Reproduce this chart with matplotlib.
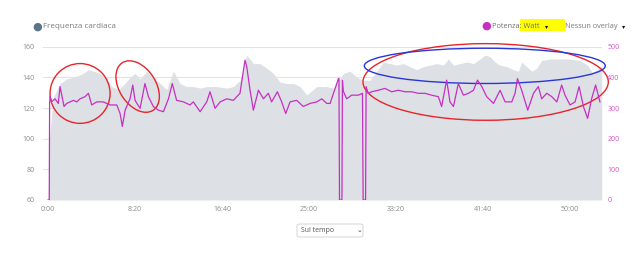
import matplotlib
matplotlib.use("Agg")
import matplotlib.pyplot as plt
from matplotlib.patches import Ellipse, FancyBboxPatch, Rectangle

plt.rcParams['font.family'] = ['Open Sans', 'DejaVu Sans']

# heart rate (bpm) over time (s)
hr_t = [0, 8, 30, 69, 107, 146, 203, 232, 261, 299, 337, 366, 404, 442, 471,
        500, 529, 567, 605, 644, 682, 720, 759, 797, 835, 874, 912, 969, 1027,
        1065, 1103, 1142, 1180, 1218, 1257, 1295, 1333, 1372, 1410, 1448, 1487,
        1544, 1602, 1640, 1697, 1736, 1774, 1812, 1850, 1889, 1927, 1965, 2004,
        2042, 2080, 2119, 2157, 2195, 2234, 2272, 2301, 2330, 2368, 2406, 2445,
        2483, 2512, 2540, 2569, 2598, 2636, 2674, 2703, 2722, 2751, 2780, 2808,
        2837, 2885, 2942, 3000, 3057, 3100, 3130, 3153, 3182]
hr_v = [60, 100, 127, 136, 139, 140, 142.6, 145, 144, 142.6, 139, 134, 132,
        136, 140, 142.6, 139, 144, 140, 136, 132, 144, 136, 134, 134, 133, 134,
        134, 133, 134, 138, 154.6, 149, 149, 146, 142.6, 137, 136, 136, 134,
        128.5, 134, 134, 133, 142.6, 144, 140, 138, 138, 144, 150, 149, 148,
        149, 147, 145, 147, 148, 149, 148, 152, 148, 149, 150, 149, 152, 154.6,
        153.5, 150, 148, 147, 145, 144, 150, 147, 144, 146, 151, 152, 152, 152,
        151, 148, 143, 145, 147]

# power (W) over time (s)
pw_t = [0, 7, 9, 12, 21, 40, 59, 69, 79, 92, 107, 126, 146, 165, 184, 213,
        232, 251, 280, 318, 356, 395, 414, 427, 443, 471, 487, 500, 529, 557,
        577, 605, 634, 663, 692, 714, 739, 778, 816, 835, 874, 912, 931, 960,
        989, 1027, 1065, 1103, 1132, 1142, 1161, 1180, 1209, 1238, 1266, 1285,
        1318, 1343, 1366, 1391, 1429, 1467, 1506, 1544, 1573, 1602, 1621, 1650,
        1669, 1672, 1675, 1689, 1692, 1697, 1716, 1745, 1784, 1807, 1811, 1825,
        1828, 1840, 1860, 1898, 1936, 1975, 2013, 2051, 2090, 2128, 2166, 2204,
        2243, 2262, 2291, 2310, 2330, 2358, 2387, 2416, 2445, 2468, 2493, 2521,
        2560, 2598, 2627, 2665, 2684, 2698, 2722, 2757, 2790, 2818, 2837, 2866,
        2895, 2924, 2952, 2971, 3000, 3029, 3052, 3077, 3101, 3124, 3147, 3172]
pw_v = [0, 0, 317, 337, 320, 330, 315, 370, 342, 305, 315, 320, 325, 320, 330,
        337, 348, 310, 320, 320, 310, 310, 282, 240, 293, 330, 375, 325, 299,
        380, 337, 305, 293, 288, 330, 380, 325, 320, 310, 320, 288, 320, 353,
        299, 320, 330, 325, 348, 456, 435, 358, 293, 358, 330, 348, 320, 353,
        320, 282, 320, 325, 305, 315, 320, 330, 315, 315, 364, 396, 396, 0, 0,
        390, 355, 330, 342, 342, 348, 0, 0, 370, 348, 353, 358, 364, 353, 358,
        353, 353, 348, 348, 342, 337, 305, 391, 320, 305, 380, 342, 348, 358,
        391, 370, 337, 315, 358, 320, 320, 348, 396, 358, 293, 348, 370, 330,
        348, 337, 320, 375, 342, 310, 320, 370, 305, 266, 330, 375, 320]

x_ticks = [0, 500, 1000, 1500, 2000, 2500, 3000]
x_labels = ['0:00', '8:20', '16:40', '25:00', '33:20', '41:40', '50:00']
hr_ticks = [60, 80, 100, 120, 140, 160]
pw_ticks = [0, 100, 200, 300, 400, 500]

fig = plt.figure(figsize=(6.4, 2.65), dpi=100)
ax = fig.add_axes([43 / 640, 65 / 265, 558.7 / 640, 153.3 / 265])

ax.fill_between(hr_t, 60, hr_v, color='#dde1e5', lw=0, zorder=2)
ax.set_xlim(-29, 3182)
ax.set_ylim(60, 160)
ax.set_yticks(hr_ticks)
ax.set_xticks(x_ticks)
ax.set_xticklabels(x_labels)
ax.grid(axis='y', color='#e3e3e3', lw=0.8, zorder=1)
ax.set_axisbelow(True)
for s in ax.spines.values():
    s.set_visible(False)
ax.tick_params(length=0, labelsize=5, labelcolor='#8a8a8a')
ax.tick_params(axis='y', pad=6)
ax.tick_params(axis='x', pad=4)

ax2 = ax.twinx()
ax2.plot(pw_t, pw_v, color='#c62fc3', lw=0.9, zorder=3)
ax2.set_ylim(0, 500)
ax2.set_yticks(pw_ticks)
for s in ax2.spines.values():
    s.set_visible(False)
ax2.tick_params(length=0, labelsize=5, labelcolor='#d455cc', pad=4)

# hand drawn marks
red = '#e8242a'
blue = '#2a35d8'
ax.add_patch(Ellipse((184, 129.5), 345, 39, fill=False, ec=red, lw=1.0, clip_on=False, zorder=5))
ax.add_patch(Ellipse((515, 134), 250, 31, angle=-3, fill=False, ec=red, lw=1.0, clip_on=False, zorder=5))
ax.add_patch(Ellipse((2515, 137), 1410, 50, fill=False, ec=red, lw=1.0, clip_on=False, zorder=5))
ax.add_patch(Ellipse((2510, 147.5), 1385, 23, fill=False, ec=blue, lw=1.0, clip_on=False, zorder=5))

# legend / header
fig.text(37 / 640, 1 - 27 / 265, '\u25cf', color='#5c7488', fontsize=8, ha='center', va='center')
fig.text(43 / 640, 1 - 27 / 265, 'Frequenza cardiaca', color='#7a7a7a', fontsize=5.8, va='center')
fig.add_artist(Rectangle((520 / 640, 1 - 31 / 265), 45 / 640, 12 / 265,
                         transform=fig.transFigure, color='#ffff00', lw=0))
fig.text(486 / 640, 1 - 26 / 265, '\u25cf', color='#c62fc3', fontsize=8, ha='center', va='center')
fig.text(492 / 640, 1 - 26 / 265, 'Potenza: Watt', color='#6f6f6f', fontsize=5.3, va='center')
fig.text(547 / 640, 1 - 26.5 / 265, '\u25be', color='#111111', fontsize=4.5, ha='center', va='center')
fig.text(565 / 640, 1 - 26 / 265, 'Nessun overlay', color='#7a7a7a', fontsize=5.3, va='center')
fig.text(624 / 640, 1 - 26.5 / 265, '\u25be', color='#111111', fontsize=4.5, ha='center', va='center')

# dropdown
fig.add_artist(FancyBboxPatch((297 / 640, 1 - 237 / 265), 66 / 640, 13 / 265,
                              boxstyle='round,pad=0,rounding_size=0.005',
                              transform=fig.transFigure, fc='white', ec='#cfcfcf', lw=0.6))
fig.text(301 / 640, 1 - 230.5 / 265, 'Sul tempo', color='#555555', fontsize=5, va='center')
fig.text(359 / 640, 1 - 230.5 / 265, '\u2304', color='#444444', fontsize=5, ha='center', va='center')

fig.savefig('out.png', dpi=100)
